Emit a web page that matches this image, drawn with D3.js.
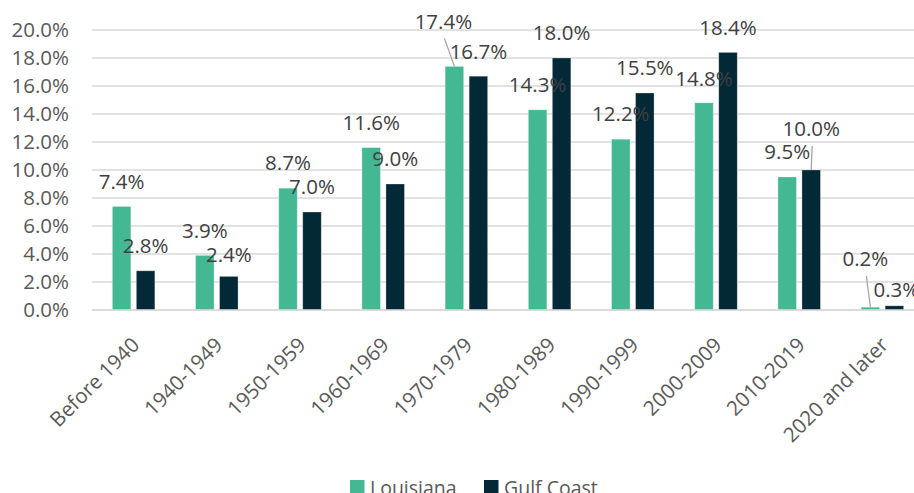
<!DOCTYPE html>
<html>
<head>
<meta charset="utf-8">
<script src="https://cdn.jsdelivr.net/npm/d3@7"></script>
<style>
  html, body { margin: 0; padding: 0; background: #ffffff; }
  svg { display: block; font-family: "Open Sans", "Noto Sans", sans-serif; }
</style>
</head>
<body>
<svg id="chart" width="914" height="493"></svg>
<script>
// ---- Data ----
const categories = ["Before 1940", "1940-1949", "1950-1959", "1960-1969", "1970-1979",
                    "1980-1989", "1990-1999", "2000-2009", "2010-2019", "2020 and later"];
const seriesNames = ["Louisiana", "Gulf Coast"];
const louisiana = [7.4, 3.9, 8.7, 11.6, 17.4, 14.3, 12.2, 14.8, 9.5, 0.2];
const gulfCoast = [2.8, 2.4, 7.0, 9.0, 16.7, 18.0, 15.5, 18.4, 10.0, 0.3];
const yTicks = [0, 2, 4, 6, 8, 10, 12, 14, 16, 18, 20];

// ---- Label placement (layout, separate from data) ----
const laLabelDx = [0, 0, 0, 0, -11, 0, 0, 0, 0, -5];
const laLabelDy = [-25, -25, -25, -25, -45, -25, -25, -24, -25, -48];
const gcLabelDx = [0, 0, 0, 0, 0, 0, 0, 0, 0, 2];
const gcLabelDy = [-25, -22, -25, -25, -24, -25, -25, -25, -41, -16];
const laLeader = [false, false, false, false, true, false, false, false, false, true];
const gcLeader = [false, false, false, false, false, false, false, false, true, false];

const colors = { "Louisiana": "#43B893", "Gulf Coast": "#032836" };

(function () {
const svg = d3.select("#chart");
const mLeft = 92, mRight = 924, mTop = 30, mBottom = 310;
const fontSize = "20.5px";

const x0 = d3.scaleBand().domain(categories).range([mLeft, mRight]).padding(0);
const x1 = d3.scaleBand().domain(seriesNames).range([0, x0.bandwidth()])
  .paddingInner(0.229).paddingOuter(0.848);
const y = d3.scaleLinear().domain([0, 20]).range([mBottom, mTop]);

// gridlines
const grid = svg.append("g");
grid.selectAll("line").data(yTicks).join("line")
  .attr("x1", mLeft).attr("x2", 914)
  .attr("y1", d => y(d)).attr("y2", d => y(d))
  .attr("stroke", "#D9D9D9").attr("stroke-width", 1.5);

// y axis labels
const yAxis = d3.axisLeft(y).tickValues(yTicks).tickFormat(d => d.toFixed(1) + "%").tickSize(0).tickPadding(0);
const yg = svg.append("g").attr("transform", `translate(69,0)`).call(yAxis);
yg.select(".domain").remove();
yg.selectAll("text").attr("fill", "#595959").style("font-size", fontSize)
  .style("font-family", '"Open Sans", sans-serif');

// bars
const seriesData = [
  { name: "Louisiana", values: louisiana, dx: laLabelDx, dy: laLabelDy, leader: laLeader },
  { name: "Gulf Coast", values: gulfCoast, dx: gcLabelDx, dy: gcLabelDy, leader: gcLeader }
];

seriesData.forEach(s => {
  const g = svg.append("g");
  const items = categories.map((c, i) => ({ c, i, v: s.values[i] }));
  g.selectAll("rect").data(items).join("rect")
    .attr("x", d => x0(d.c) + x1(s.name))
    .attr("width", x1.bandwidth())
    .attr("y", d => y(d.v))
    .attr("height", d => y(0) - y(d.v))
    .attr("fill", colors[s.name])
    .attr("stroke", "#ffffff").attr("stroke-opacity", 0.35).attr("stroke-width", 0.8);
});

// x axis baseline
svg.append("line").attr("x1", mLeft).attr("x2", 914).attr("y1", y(0)).attr("y2", y(0))
  .attr("stroke", "#D9D9D9").attr("stroke-width", 1.5);

// data labels + leader lines
seriesData.forEach(s => {
  categories.forEach((c, i) => {
    const bx = x0(c) + x1(s.name) + x1.bandwidth() / 2;
    const by = y(s.values[i]);
    const lx = bx + s.dx[i];
    const ly = by + s.dy[i];
    if (s.leader[i]) {
      svg.append("line")
        .attr("x1", lx + 1).attr("y1", ly + 17)
        .attr("x2", bx).attr("y2", by)
        .attr("stroke", "#A6A6A6").attr("stroke-width", 1.3);
    }
    svg.append("text")
      .attr("x", lx).attr("y", ly).attr("dy", "0.35em")
      .attr("text-anchor", "middle")
      .attr("fill", "#404040").style("font-size", fontSize)
      .text(s.values[i].toFixed(1) + "%");
  });
});

// x axis labels (rotated)
const xg = svg.append("g");
categories.forEach(c => {
  const cx = x0(c) + x0.bandwidth() / 2;
  xg.append("text")
    .attr("transform", `translate(${cx + 2},${y(0) + 31}) rotate(-45)`)
    .attr("text-anchor", "end").attr("dy", "0.35em")
    .attr("fill", "#595959").style("font-size", fontSize)
    .text(c);
});

// legend
const legend = svg.append("g");
const legendItems = [{ name: "Louisiana", x: 350 }, { name: "Gulf Coast", x: 484 }];
legendItems.forEach(li => {
  legend.append("rect").attr("x", li.x).attr("y", 480).attr("width", 14.5).attr("height", 14.5)
    .attr("fill", colors[li.name]);
  legend.append("text").attr("x", li.x + 20).attr("y", 495)
    .attr("fill", "#595959").style("font-size", "19.5px").text(li.name);
});
})();
</script>
</body>
</html>
